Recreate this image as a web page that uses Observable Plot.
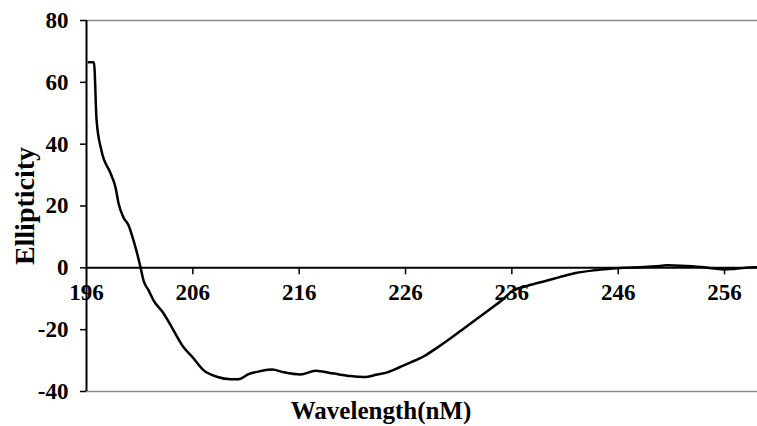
<!DOCTYPE html>
<html>
<head>
<meta charset="utf-8">
<script src="https://cdn.jsdelivr.net/npm/d3@7"></script>
<script src="https://cdn.jsdelivr.net/npm/@observablehq/plot@0.6"></script>
<style>
  html, body { margin: 0; padding: 0; background: #fff; }
  #chart svg { display: block; }
</style>
</head>
<body>
<div id="chart"></div>
<script>
const wavelength = [196.2, 196.7, 196.95, 197.4, 198.26, 198.73, 199.01, 199.48, 199.95, 200.42, 201.08, 201.36, 201.83, 202.3, 203.24, 204.18, 205.13, 205.97, 207.0, 208.32, 209.55, 210.3, 211.24, 212.37, 213.47, 214.56, 216.13, 217.54, 219.26, 220.84, 222.09, 223.35, 224.29, 225.54, 226.48, 227.73, 228.99, 230.24, 231.49, 232.75, 234.0, 235.26, 236.0, 237.5, 239.0, 240.5, 242.0, 243.5, 245.0, 246.5, 248.0, 249.5, 250.6, 251.9, 253.8, 255.0, 256.0, 256.9, 258.8, 259.1];
const ellipticity = [66.5, 66.5, 47.7, 38.0, 30.6, 26.0, 20.9, 16.3, 13.8, 8.9, 0.2, -4.1, -7.2, -10.5, -14.7, -20.2, -25.7, -28.9, -33.1, -35.3, -36.0, -36.0, -34.4, -33.4, -32.9, -33.8, -34.5, -33.3, -34.2, -35.0, -35.3, -34.5, -33.8, -32.0, -30.6, -28.6, -25.8, -22.8, -19.6, -16.4, -13.2, -9.9, -7.6, -5.8, -4.4, -3.0, -1.7, -0.9, -0.4, 0.0, 0.2, 0.5, 0.8, 0.7, 0.3, -0.2, -0.5, -0.35, 0.2, 0.2];
const xTicks = [196, 206, 216, 226, 236, 246, 256];
const yTicks = [-40, -20, 0, 20, 40, 60, 80];
const xTitle = "Wavelength(nM)";
const yTitle = "Ellipticity";

const data = wavelength.map((w, i) => ({w, e: ellipticity[i]}));

const chart = Plot.plot({
  width: 757,
  height: 426,
  marginLeft: 86,
  marginRight: 0,
  marginTop: 20,
  marginBottom: 35,
  style: {fontFamily: "'Liberation Serif', 'Times New Roman', serif", fontWeight: "bold", color: "black", background: "white"},
  x: {domain: [196, 259.1], axis: null},
  y: {domain: [-40, 80], axis: null},
  marks: [
    Plot.ruleY([80], {stroke: "#8a8a8a", strokeWidth: 1.5}),
    Plot.ruleY([-40], {stroke: "#8a8a8a", strokeWidth: 1.5}),
    Plot.text(xTicks, {x: d => d, y: 0, dy: 25, text: d => String(d), fontSize: 23, fontWeight: "bold", fill: "black"}),
    Plot.ruleY([0], {stroke: "black", strokeWidth: 2}),
    Plot.ruleX(xTicks.slice(1), {x: d => d, y1: 0, y2: 0, insetBottom: -7, stroke: "black", strokeWidth: 1.5}),
    Plot.ruleX([196], {stroke: "black", strokeWidth: 2}),
    Plot.axisY({ticks: yTicks, tickSize: 6, tickPadding: 12, fontSize: 23, fontWeight: "bold", label: null, stroke: "black", strokeWidth: 1.5, tickFormat: d => String(d)}),
    Plot.line(data, {x: "w", y: "e", stroke: "black", strokeWidth: 2.5, curve: "monotone-x"}),
    Plot.text([yTitle], {frameAnchor: "left", textAnchor: "middle", lineAnchor: "middle", dx: -61, rotate: -90, text: d => d, fontSize: 28, fontWeight: "bold", fill: "black"}),
    Plot.text([xTitle], {frameAnchor: "bottom", textAnchor: "middle", lineAnchor: "middle", dx: -41, dy: 19, text: d => d, fontSize: 25, fontWeight: "bold", fill: "black"})
  ]
});
document.getElementById("chart").appendChild(chart);
</script>
</body>
</html>
